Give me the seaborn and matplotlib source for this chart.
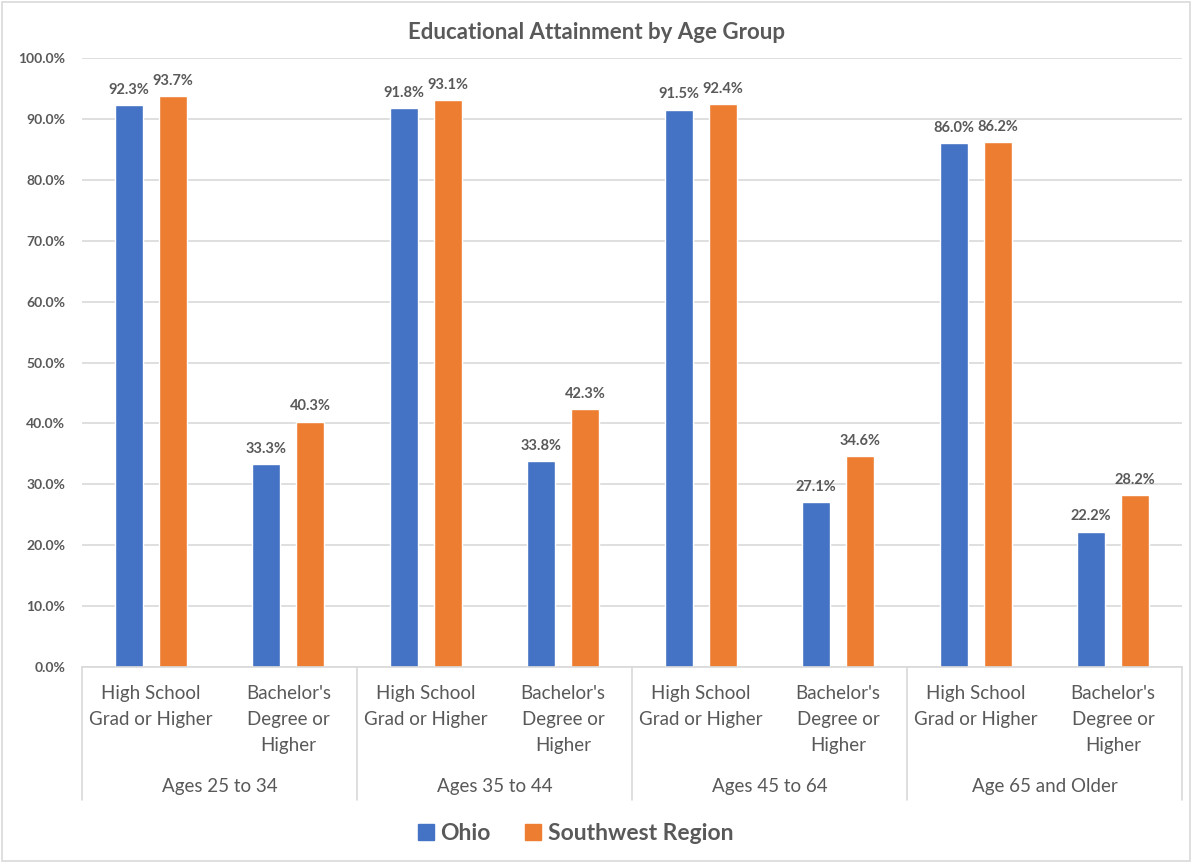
"""
Educational attainment by age group: Ohio vs Southwest Region.
Excel-style grouped bars with a two-level category axis.
"""

import matplotlib
matplotlib.use("Agg")
import matplotlib.pyplot as plt
import matplotlib.transforms as mtransforms
from matplotlib.patches import Rectangle
import pandas as pd
import seaborn as sns

age_groups = ["Ages 25 to 34", "Ages 35 to 44", "Ages 45 to 64", "Age 65 and Older"]
levels = ["High School\nGrad or Higher", "Bachelor's\nDegree or\nHigher"]
series = ["Ohio", "Southwest Region"]
ohio = [92.3, 33.3, 91.8, 33.8, 91.5, 27.1, 86.0, 22.2]
southwest = [93.7, 40.3, 93.1, 42.3, 92.4, 34.6, 86.2, 28.2]
y_ticks = [0, 10, 20, 30, 40, 50, 60, 70, 80, 90, 100]

BLUE = "#4472C4"
ORANGE = "#ED7D31"
TEXT = "#595959"
GRID = "#D9D9D9"

sns.set_theme(style="white")
plt.rcParams["font.family"] = ["Lato", "DejaVu Sans"]

# long table: one row per bar
slots = [f"{g}|{lv}" for g in age_groups for lv in levels]
df = pd.DataFrame({
    "slot": slots * 2,
    "series": [series[0]] * len(slots) + [series[1]] * len(slots),
    "value": ohio + southwest,
})

fig = plt.figure(figsize=(11.92, 8.63), dpi=100)
ax = fig.add_axes([0.0688, 0.2271, 0.9228, 0.7057])

sns.barplot(
    data=df, x="slot", y="value", hue="series", order=slots,
    hue_order=series, palette=[BLUE, ORANGE], width=0.64, gap=0.36,
    saturation=1, legend=False, ax=ax,
)

for cont in ax.containers:
    ax.bar_label(cont, labels=[f"{v:.1f}%" for v in cont.datavalues],
                 padding=6, fontsize=10.5, fontweight="bold", color=TEXT)

ax.set_ylim(0, 100)
ax.set_xlim(-0.5, len(slots) - 0.5)
ax.set_yticks(y_ticks)
ax.set_yticklabels([f"{t:.1f}%" for t in y_ticks], fontsize=10,
                   fontweight="bold", color=TEXT)
ax.tick_params(axis="y", length=0, pad=12)
ax.yaxis.grid(True, color=GRID, linewidth=1.2)
ax.set_axisbelow(True)
for side in ["top", "right", "left"]:
    ax.spines[side].set_visible(False)
ax.spines["bottom"].set_color(GRID)
ax.spines["bottom"].set_linewidth(1.2)

ax.set_xticks(range(len(slots)))
ax.set_xticklabels([lv for g in age_groups for lv in levels], fontsize=13.5,
                   color=TEXT, va="top", linespacing=1.65)
ax.tick_params(axis="x", length=0, pad=13)
ax.set_xlabel("")
ax.set_ylabel("")

# second category level: dividers and group names
trans = mtransforms.blended_transform_factory(ax.transData, fig.transFigure)
for k in range(len(age_groups) + 1):
    x = -0.5 + 2 * k
    ax.plot([x, x], [0.2271, 0.073], transform=trans, color=GRID,
            linewidth=1.2, clip_on=False)
for k, g in enumerate(age_groups):
    ax.text(2 * k + 0.5, 0.089, g, transform=trans, ha="center",
            va="center", fontsize=13.5, color=TEXT)

fig.suptitle("Educational Attainment by Age Group", x=0.50, y=0.975,
             fontsize=16, fontweight="bold", color=TEXT)

handles = [Rectangle((0, 0), 1, 1, color=c) for c in [BLUE, ORANGE]]
fig.legend(handles, series, loc="center", bbox_to_anchor=(0.483, 0.034),
           ncol=2, frameon=False, labelcolor=TEXT,
           handlelength=0.7, handleheight=0.7, handletextpad=0.3,
           columnspacing=1.5, prop={"weight": "bold", "size": 16.5})

# outer chart border
fig.patches.append(Rectangle((0.002, 0.002), 0.996, 0.996, transform=fig.transFigure,
                             fill=False, edgecolor=GRID, linewidth=1.2))

fig.savefig("out.png", dpi=100)
